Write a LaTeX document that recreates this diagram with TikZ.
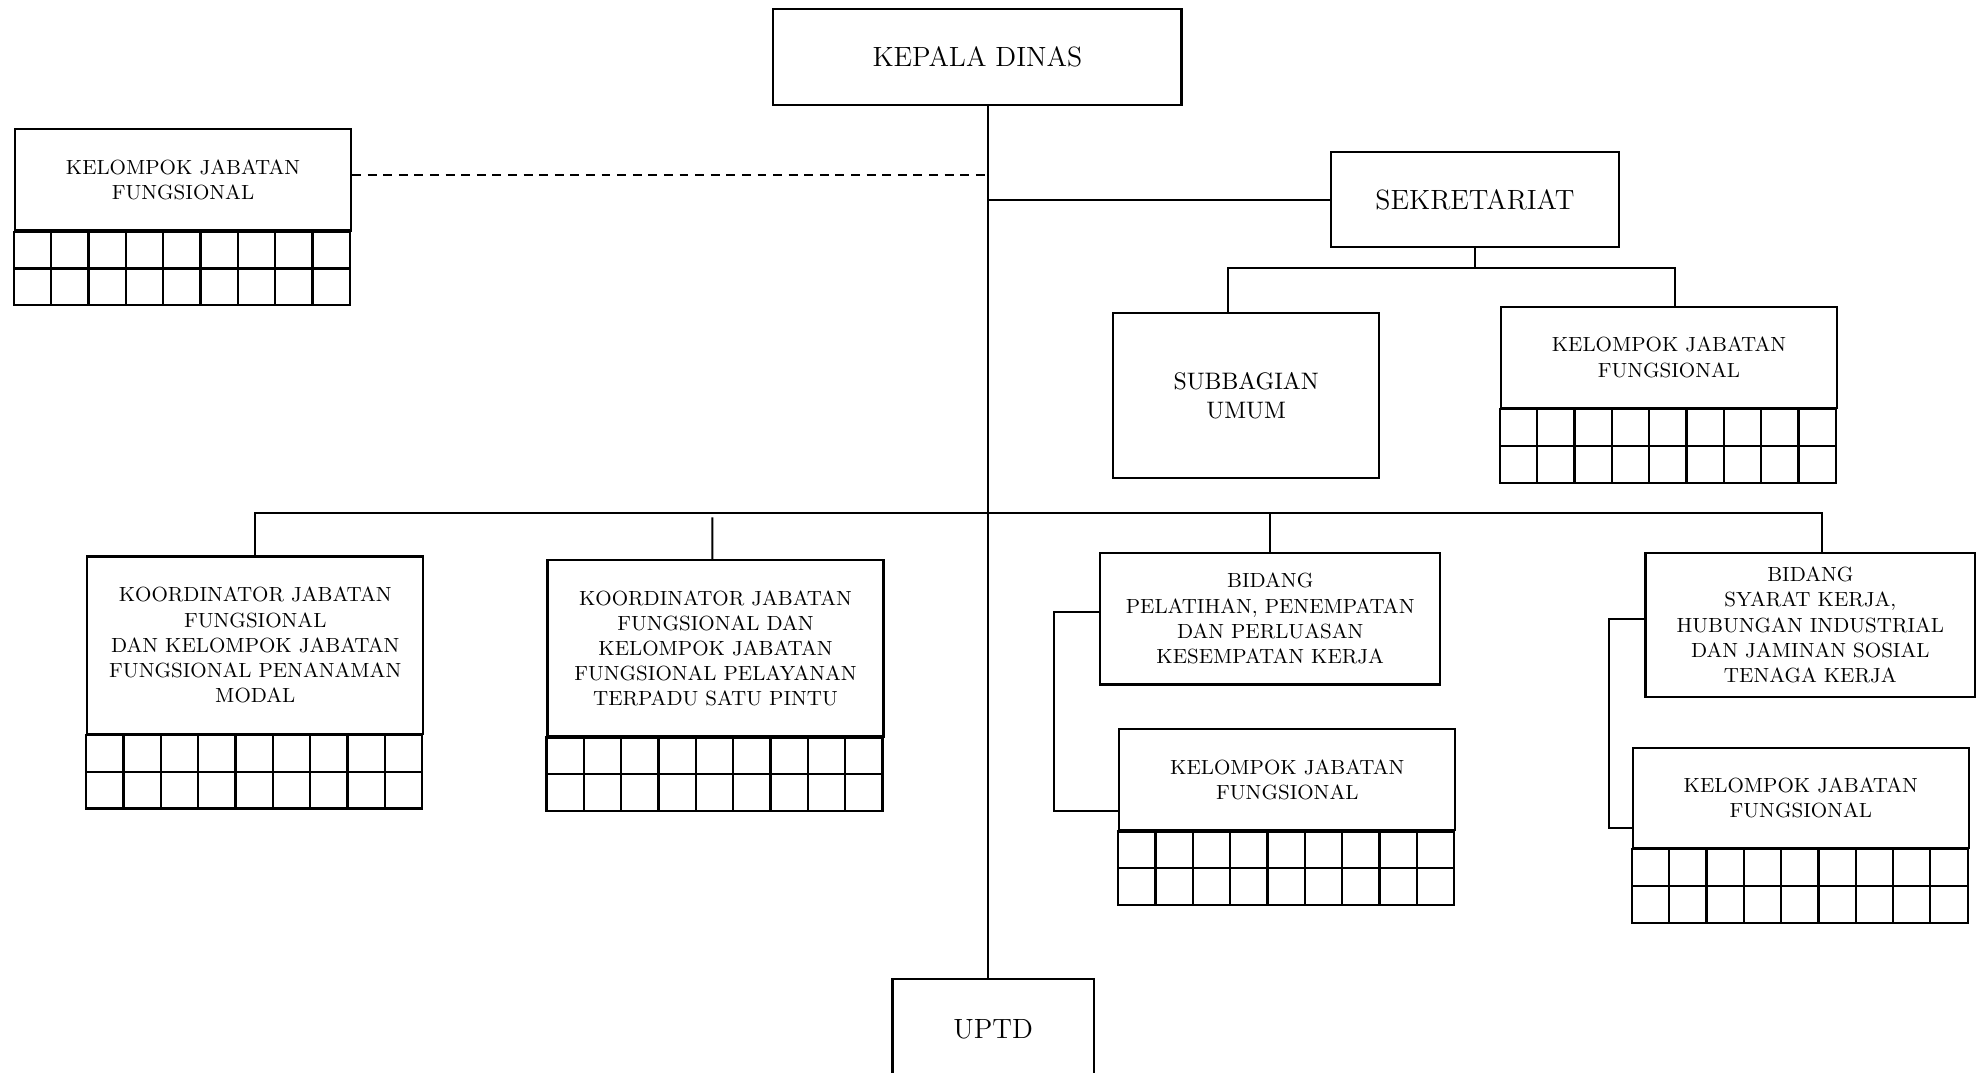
\documentclass[tikz,border=0pt]{standalone}
\usepackage{fontspec}
\usepackage{tikz}
\usetikzlibrary{positioning,calc}
\newcommand{\bigfont}{\fontsize{12.5}{15}\selectfont}
\newcommand{\midfont}{\fontsize{10.7}{13}\selectfont}
\newcommand{\smallfont}{\fontsize{9.2}{11.3}\selectfont}
\newcommand{\jfgrid}{\draw[line width=1pt] (0,0) rectangle (265,58);
					\draw[line width=1pt] (0,29) -- (265,29);
					\foreach \c in {1,...,8} {\draw[line width=1pt] (\c*29.44,0) -- (\c*29.44,58);}}
\tikzset{
	unit/.style={draw, line width=1pt, rectangle, align=center, inner sep=0pt, anchor=north west},
	jfhead/.style={unit, minimum width=5.3cm, minimum height=1.6cm, font=\smallfont},
	link/.style={line width=0.9pt}
}

\begin{document}
\begin{tikzpicture}[x=0.02cm, y=-0.02cm]
					\useasboundingbox (0,0) rectangle (1568,846);
					\clip (0,0) rectangle (1568,846);

					% top
					\node[unit, minimum width=6.44cm, minimum height=1.52cm, font=\bigfont] (kepala) at (609,6) {KEPALA DINAS};
					\coordinate (trunk) at (779,0);
					\coordinate (mbar) at (779,405);

					\node[jfhead] (kjfl) at (11,101) {KELOMPOK JABATAN\\FUNGSIONAL};
					\begin{scope}[shift={(kjfl.south west)}]
						\jfgrid
					\end{scope}

					\node[unit, minimum width=4.54cm, minimum height=1.5cm, font=\bigfont] (sekre) at (1049,119) {SEKRETARIAT};
					\node[unit, minimum width=4.2cm, minimum height=2.6cm, font=\midfont] (subbag) at (877,246) {SUBBAGIAN\\UMUM};
					\node[jfhead] (kjfs) at (1183,241) {KELOMPOK JABATAN\\FUNGSIONAL};
					\begin{scope}[shift={(kjfs.south west)}]
						\jfgrid
					\end{scope}

					% koordinator
					\node[jfhead, minimum height=2.8cm] (koor1) at (68,438) {KOORDINATOR JABATAN\\FUNGSIONAL\\DAN KELOMPOK JABATAN\\FUNGSIONAL PENANAMAN\\MODAL};
					\begin{scope}[shift={(koor1.south west)}]
						\jfgrid
					\end{scope}

					\node[jfhead, minimum height=2.78cm] (koor2) at (431,441) {KOORDINATOR JABATAN\\FUNGSIONAL DAN\\KELOMPOK JABATAN\\FUNGSIONAL PELAYANAN\\TERPADU SATU PINTU};
					\begin{scope}[shift={(koor2.south west)}]
						\jfgrid
					\end{scope}

					% bidang
					\node[unit, minimum width=5.36cm, minimum height=2.08cm, font=\smallfont] (bid1) at (867,435) {BIDANG\\PELATIHAN, PENEMPATAN\\DAN PERLUASAN\\KESEMPATAN KERJA};
					\node[jfhead] (kjfb1) at (882,574) {KELOMPOK JABATAN\\FUNGSIONAL};
					\begin{scope}[shift={(kjfb1.south west)}]
						\jfgrid
					\end{scope}

					\node[unit, minimum width=5.2cm, minimum height=2.28cm, font=\smallfont] (bid2) at (1297,435) {BIDANG\\SYARAT KERJA,\\HUBUNGAN INDUSTRIAL\\DAN JAMINAN SOSIAL\\TENAGA KERJA};
					\node[jfhead, minimum height=1.58cm] (kjfb2) at (1287,589) {KELOMPOK JABATAN\\FUNGSIONAL};
					\begin{scope}[shift={(kjfb2.south west)}]
						\jfgrid
					\end{scope}

					\node[unit, minimum width=3.18cm, minimum height=1.6cm, font=\bigfont] (uptd) at (703,771) {UPTD};

					% lines
					\draw[link] (kepala.south -| trunk) -- (uptd.north -| trunk);
					\draw[link, dash pattern=on 4pt off 3pt] ([yshift=0.08cm]kjfl.east) -- ([yshift=0.08cm]kjfl.east -| trunk);
					\draw[link] (sekre.west) -- (sekre.west -| trunk);
					\draw[link] (sekre.south) -- ++(0,16);
					\draw[link] ([xshift=-0.28cm]subbag.north) |- ($(sekre.south)+(0,16)$) -| ([xshift=0.1cm]kjfs.north);
					\draw[link] (koor1.north) |- (mbar) -| ([xshift=0.18cm]bid2.north);
					\draw[link] ([xshift=-0.05cm]koor2.north) -- ($(koor2.north |- mbar)+(-2.5,3)$);
					\draw[link] (bid1.north) -- (bid1.north |- mbar);
					\draw[link] ([yshift=0.1cm]bid1.west) -- ++(-36,0) |- ($(kjfb1.south west)+(0,-16)$);
					\draw[link] ([yshift=0.1cm]bid2.west) -- ++(-28,0) |- ($(kjfb2.south west)+(0,-17)$);

				\end{tikzpicture}
\end{document}
